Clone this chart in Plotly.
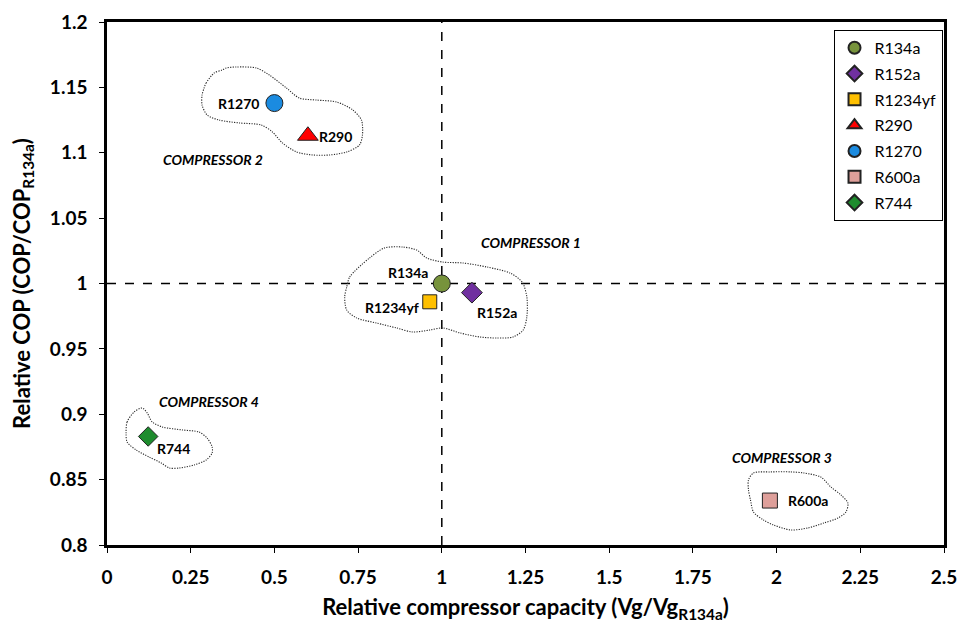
import plotly.graph_objects as go

# Refrigerant results relative to R134a
refrigerants = ["R134a", "R152a", "R1234yf", "R290", "R1270", "R600a", "R744"]
rel_capacity = [1.00, 1.09, 0.964, 0.60, 0.50, 1.98, 0.123]
rel_cop = [1.000, 0.993, 0.986, 1.113, 1.138, 0.834, 0.883]

marker_symbols = ["circle", "diamond", "square", "triangle-up", "circle", "square", "diamond"]
marker_colors = ["#77933C", "#7030A0", "#FFC000", "#FF0000", "#1B8BE0", "#DE9F9A", "#1E8C2E"]
marker_sizes = [17, 16, 14, 18, 17, 15, 15]

# label placement around each point: (xanchor, xshift, yshift)
label_offsets = {
    "R134a": ("right", -12, 11),
    "R152a": ("left", 3, -20),
    "R1234yf": ("right", -9, -6),
    "R290": ("left", 9, -1),
    "R1270": ("right", -13, 0),
    "R600a": ("left", 16, 0),
    "R744": ("left", 7, -12),
}

# Compressor groupings (outline in data units) and their captions
groups = ["COMPRESSOR 1", "COMPRESSOR 2", "COMPRESSOR 3", "COMPRESSOR 4"]
group_label_x = [1.266, 0.317, 2.015, 0.305]
group_label_y = [1.031, 1.095, 0.867, 0.910]

outline_c1 = [
    (0.716, 0.9973), (0.725, 1.005), (0.784, 1.0195), (0.829, 1.0272), (0.883, 1.0279),
    (0.925, 1.0256), (0.955, 1.0195), (1.003, 1.0164), (1.063, 1.0157), (1.135, 1.0126),
    (1.204, 1.008), (1.240, 1.0011), (1.254, 0.9897), (1.254, 0.9744), (1.243, 0.9644),
    (1.213, 0.9591), (1.165, 0.9583), (1.114, 0.9591), (1.054, 0.9622), (1.003, 0.966),
    (0.964, 0.9644), (0.913, 0.9629), (0.865, 0.966), (0.805, 0.9698), (0.746, 0.9736),
    (0.716, 0.9797), (0.710, 0.9897),
]
outline_c2 = [
    (0.290, 1.1495), (0.296, 1.1533), (0.320, 1.161), (0.344, 1.1633), (0.356, 1.1648),
    (0.386, 1.1656), (0.446, 1.1648), (0.485, 1.1594), (0.536, 1.1495), (0.575, 1.1418),
    (0.626, 1.1403), (0.686, 1.1388), (0.734, 1.1327), (0.760, 1.125), (0.763, 1.1136),
    (0.754, 1.1059), (0.716, 1.1006), (0.665, 1.0983), (0.614, 1.0983), (0.566, 1.1006),
    (0.524, 1.1075), (0.494, 1.1159), (0.461, 1.1212), (0.395, 1.1228), (0.335, 1.125),
    (0.299, 1.1289), (0.284, 1.1365), (0.284, 1.1442),
]
outline_c3 = [
    (1.916, 0.8497), (1.931, 0.8551), (1.982, 0.8559), (2.042, 0.8559), (2.081, 0.8551),
    (2.132, 0.8520), (2.162, 0.8444), (2.192, 0.8383), (2.213, 0.8321), (2.207, 0.8252),
    (2.183, 0.8206), (2.141, 0.8168), (2.093, 0.8130), (2.042, 0.8115), (1.991, 0.8153),
    (1.961, 0.8191), (1.931, 0.8252), (1.922, 0.8344), (1.916, 0.8421),
]
outline_c4 = [
    (0.057, 0.8857), (0.060, 0.8941), (0.081, 0.9017), (0.105, 0.9048), (0.120, 0.9010),
    (0.135, 0.8941), (0.165, 0.8903), (0.225, 0.8880), (0.275, 0.8864), (0.299, 0.8818),
    (0.314, 0.8750), (0.314, 0.8704), (0.296, 0.8650), (0.260, 0.8612), (0.216, 0.8589),
    (0.186, 0.8589), (0.162, 0.8627), (0.126, 0.8673), (0.087, 0.8727), (0.060, 0.8788),
]
outlines = [outline_c1, outline_c2, outline_c3, outline_c4]

x_ticks = [0, 0.25, 0.5, 0.75, 1, 1.25, 1.5, 1.75, 2, 2.25, 2.5]
y_ticks = [0.8, 0.85, 0.9, 0.95, 1, 1.05, 1.1, 1.15, 1.2]

FONT = "Lato"

fig = go.Figure()

# dotted group outlines
for pts in outlines:
    closed = pts + [pts[0]]
    fig.add_trace(go.Scatter(
        x=[p[0] for p in closed], y=[p[1] for p in closed],
        mode="lines",
        line=dict(color="#2a2a2a", width=1.1, dash="1.2px,1.3px", shape="spline", smoothing=0.8),
        hoverinfo="skip", showlegend=False,
    ))

# refrigerant markers
for i, name in enumerate(refrigerants):
    fig.add_trace(go.Scatter(
        x=[rel_capacity[i]], y=[rel_cop[i]], mode="markers", name=name,
        legendgroup=name,
        marker=dict(symbol=marker_symbols[i], color=marker_colors[i], size=marker_sizes[i],
                    line=dict(color="#222222", width=1)),
    ))
    anchor, xs, ys = label_offsets[name]
    fig.add_annotation(
        x=rel_capacity[i], y=rel_cop[i], text="<b>%s</b>" % name, showarrow=False,
        xanchor=anchor, yanchor="middle", xshift=xs, yshift=ys,
        font=dict(family=FONT, size=14, color="black"),
    )

for g, gx, gy in zip(groups, group_label_x, group_label_y):
    fig.add_annotation(
        x=gx, y=gy, text="<b><i>%s</i></b>" % g, showarrow=False,
        font=dict(family=FONT, size=14, color="black"),
    )

# reference lines through the R134a baseline
fig.add_shape(type="line", x0=1, x1=1, y0=0.8, y1=1.2, xref="x", yref="y",
              line=dict(color="black", width=1.5, dash="dash"), layer="below")
fig.add_shape(type="line", x0=0, x1=2.5, y0=1, y1=1, xref="x", yref="y",
              line=dict(color="black", width=1.5, dash="dash"), layer="below")

axis_common = dict(
    showline=True, linecolor="black", linewidth=2.5, mirror=True,
    ticks="outside", ticklen=5, tickwidth=1.2, tickcolor="black",
    showgrid=False, zeroline=False, automargin=False,
    tickfont=dict(family=FONT, size=19, color="black"),
)

fig.update_xaxes(
    range=[0, 2.5], tickvals=x_ticks, ticktext=[("<b>%g</b>" % v) for v in x_ticks],
    ticklabelstandoff=8,
    title=dict(text="<b>Relative compressor capacity (Vg/Vg<sub>R134a</sub>)</b>",
               font=dict(family=FONT, size=22, color="black"), standoff=18),
    **axis_common,
)
fig.update_yaxes(
    range=[0.8, 1.2], tickvals=y_ticks, ticktext=[("<b>%g</b>" % v) for v in y_ticks],
    ticklabelstandoff=8,
    title=dict(text="<b>Relative COP (COP/COP<sub>R134a</sub>)</b>",
               font=dict(family=FONT, size=22, color="black"), standoff=14),
    **axis_common,
)

fig.update_layout(
    width=960, height=623,
    margin=dict(l=107, r=16, t=22, b=78),
    paper_bgcolor="white", plot_bgcolor="white",
    legend=dict(
        x=0.868, y=0.985, xanchor="left", yanchor="top",
        bordercolor="black", borderwidth=1, bgcolor="white",
        font=dict(family=FONT, size=16, color="black"),
        itemsizing="constant", traceorder="grouped", tracegroupgap=2,
        itemwidth=30,
    ),
)

fig.write_html("out.html")
